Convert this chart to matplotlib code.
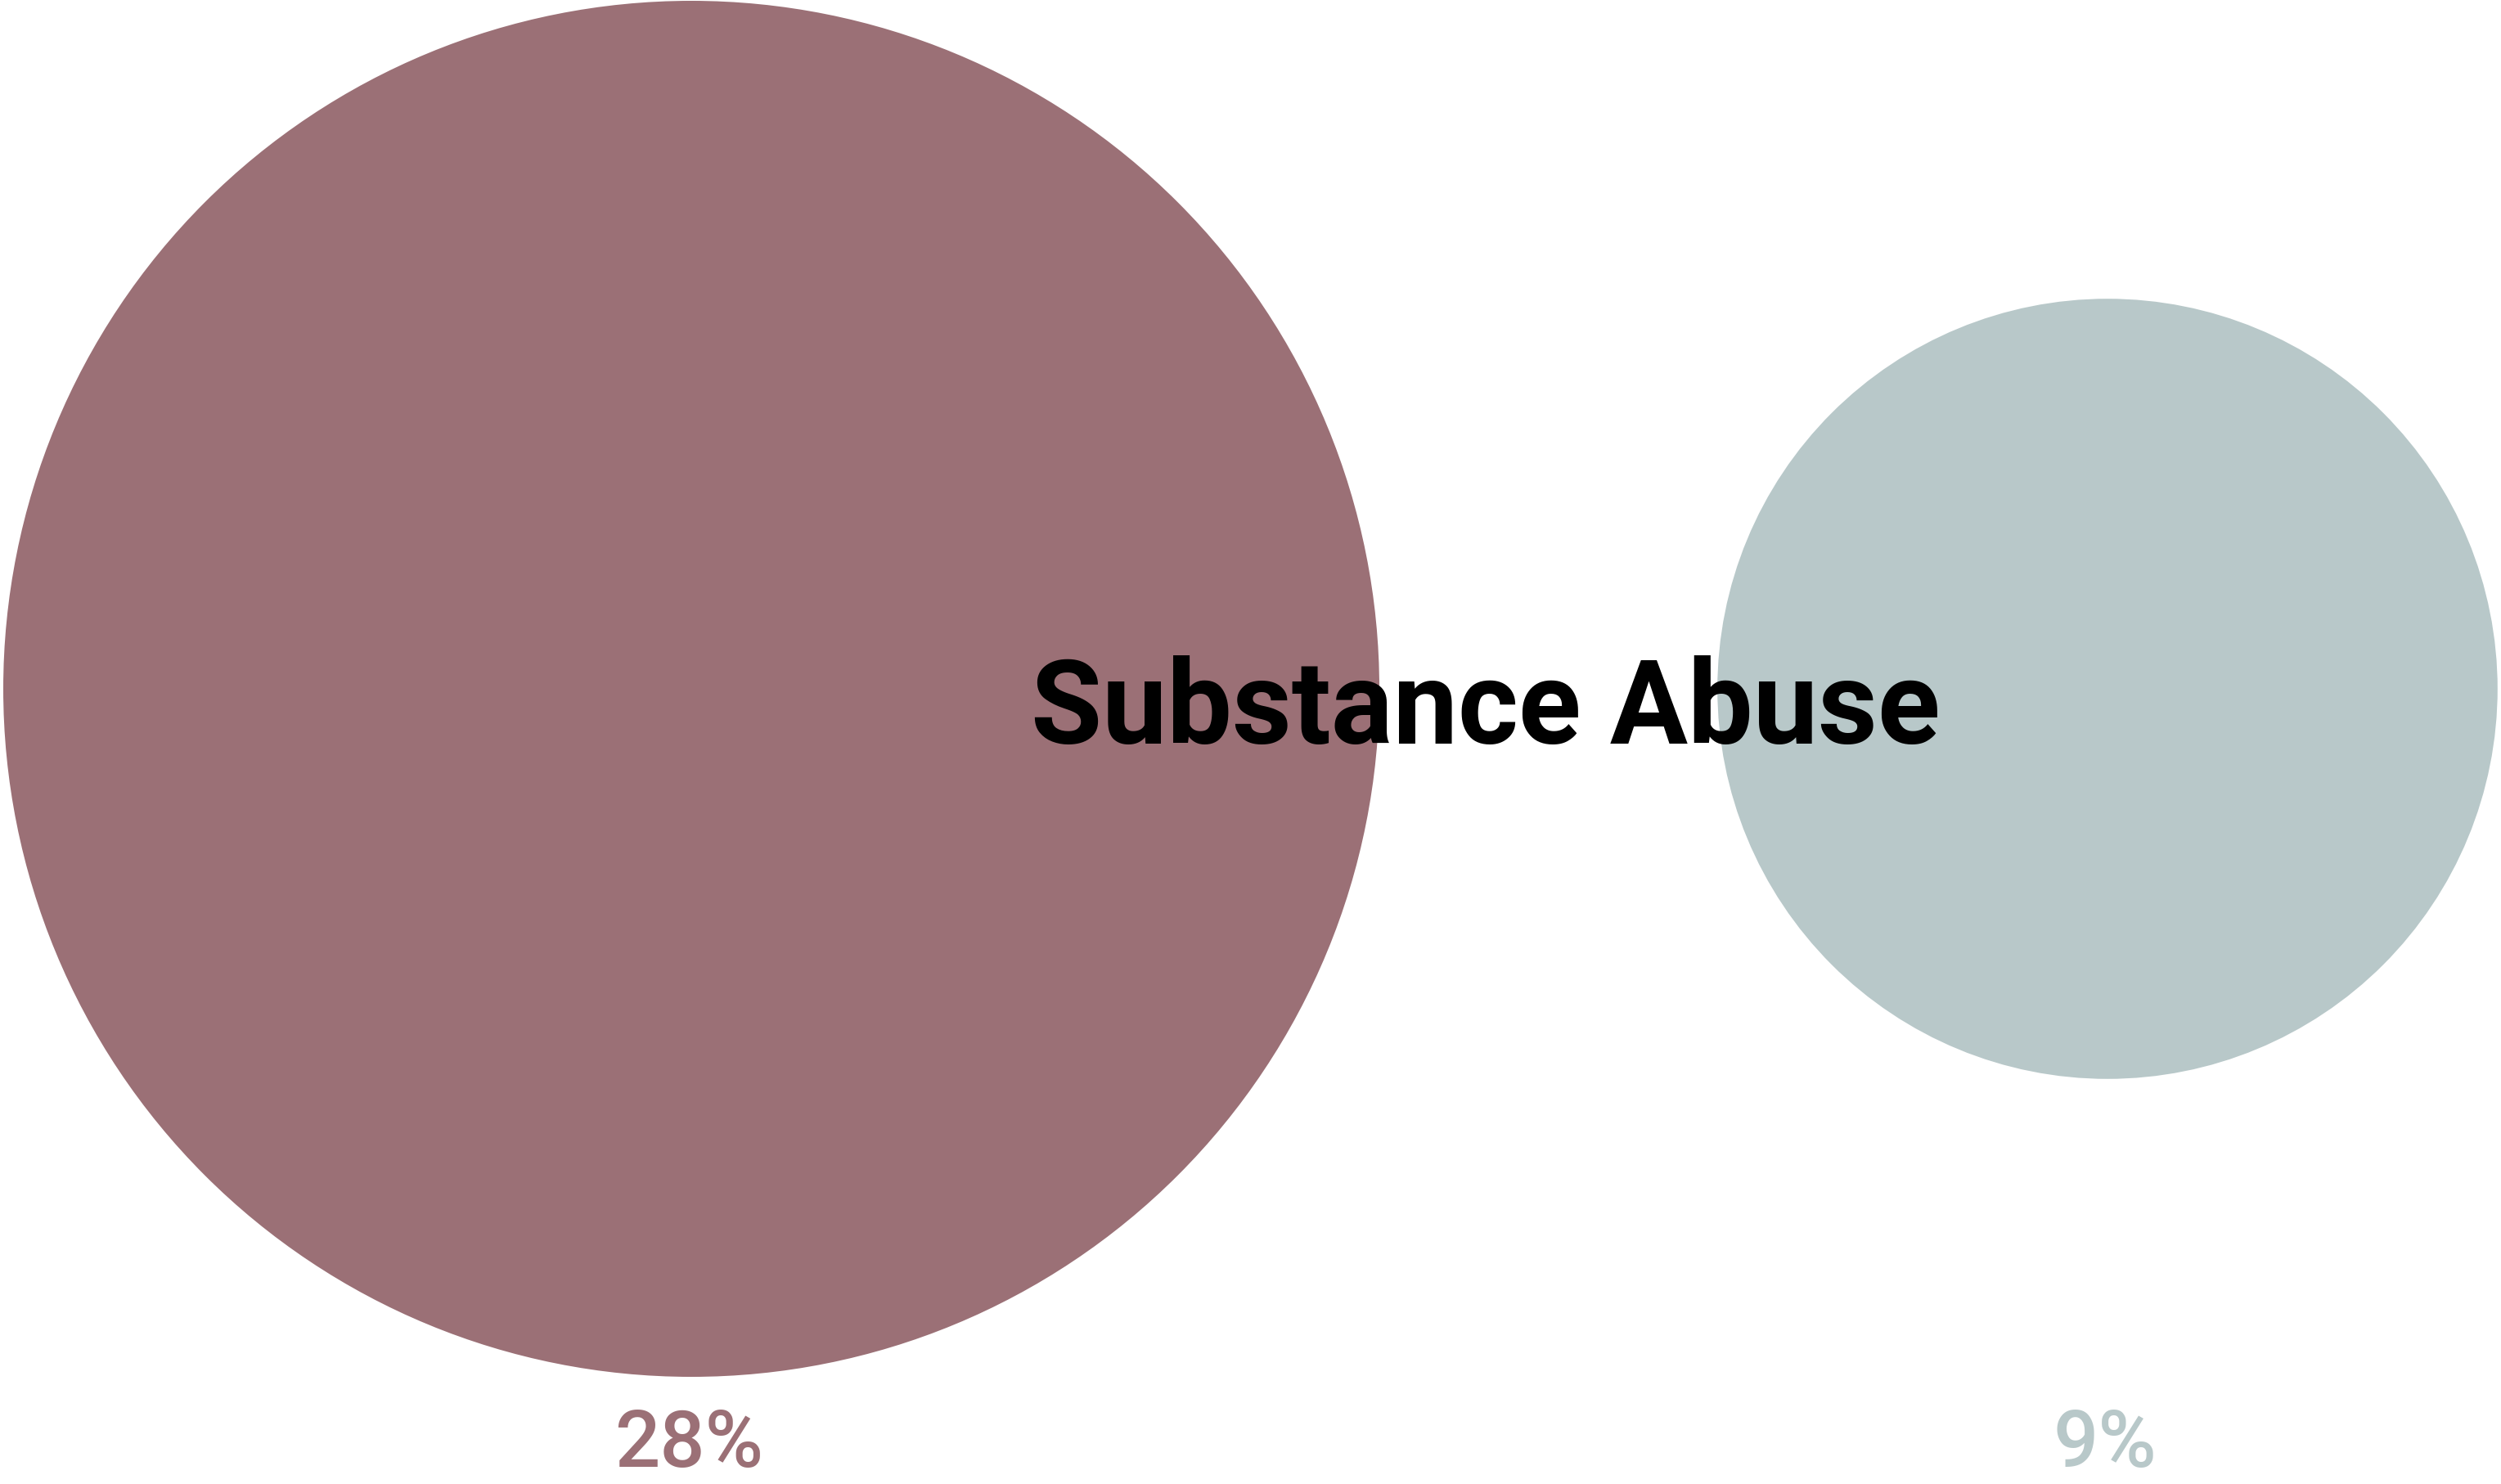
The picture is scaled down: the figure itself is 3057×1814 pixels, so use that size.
import numpy as np
import matplotlib
matplotlib.use("Agg")
import matplotlib.pyplot as plt
from matplotlib.patches import Circle

title = "Substance Abuse"
values = [28, 9]
labels = ["28%", "9%"]
colors = ["#9b7076", "#b8c8c9"]

W, H = 3057, 1815
fig = plt.figure(figsize=(W / 100, H / 100), dpi=100)
ax = fig.add_axes([0, 0, 1, 1])
ax.set_xlim(0, W)
ax.set_ylim(H, 0)
ax.set_aspect("equal")
ax.axis("off")

# area-proportional circles, biggest one fills the height
r_max = 841
centers_x = [845, 2576]
cy = 843
for v, lab, c, cx in zip(values, labels, colors, centers_x):
    r = r_max * np.sqrt(v / max(values))
    ax.add_patch(Circle((cx, cy), r, facecolor=c, edgecolor="none"))
    ax.text(cx - 3, 1767, lab, color=c, fontsize=70, family="Roboto",
            fontweight="medium", ha="center", va="center")

ax.text(1816, 909, title, fontsize=102, family="Roboto", fontweight="bold",
        color="black", ha="center", va="baseline")

fig.savefig("out.png", dpi=100, facecolor="white")
